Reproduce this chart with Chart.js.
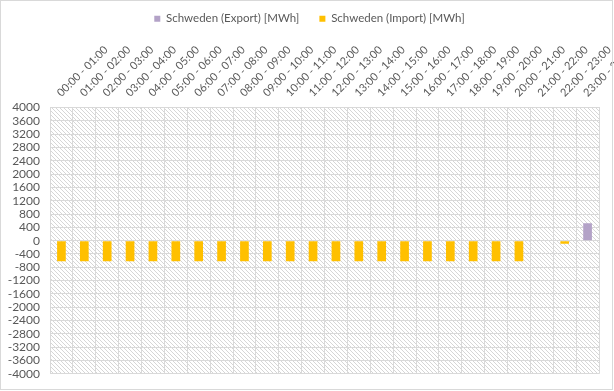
<!DOCTYPE html>
<html>
<head>
<meta charset="utf-8">
<script src="https://cdn.jsdelivr.net/npm/chart.js@4"></script>
<style>
  html, body { margin: 0; padding: 0; background: #fff; }
  #wrap { width: 614px; height: 391px; position: relative; }
</style>
</head>
<body>
<div id="wrap"><canvas id="chart"></canvas></div>
<script>
// hourly slots
const hours = [
    '00:00 - 01:00', '01:00 - 02:00', '02:00 - 03:00', '03:00 - 04:00',
    '04:00 - 05:00', '05:00 - 06:00', '06:00 - 07:00', '07:00 - 08:00',
    '08:00 - 09:00', '09:00 - 10:00', '10:00 - 11:00', '11:00 - 12:00',
    '12:00 - 13:00', '13:00 - 14:00', '14:00 - 15:00', '15:00 - 16:00',
    '16:00 - 17:00', '17:00 - 18:00', '18:00 - 19:00', '19:00 - 20:00',
    '20:00 - 21:00', '21:00 - 22:00', '22:00 - 23:00', '23:00 - 24:00'
];

const exportMWh = [
    0, 0, 0, 0, 0, 0, 0, 0, 0, 0, 0, 0,
    0, 0, 0, 0, 0, 0, 0, 0, 0, 0, 0, 520
];

const importMWh = [
    -620, -620, -620, -620, -620, -620, -620, -620, -620, -620, -620, -620,
    -620, -620, -620, -620, -620, -620, -620, -620, -620, 0, -90, 0
];

const yMin = -4000;
const yMax = 4000;
const yStep = 400;

const textColor = '#595959';
const gridColor = '#d9d9d9';
const fontFamily = 'Lato, "Open Sans", sans-serif';

// light diagonal hatch for the plot area
function makeHatch() {
    const c = document.createElement('canvas');
    c.width = 4;
    c.height = 4;
    const g = c.getContext('2d');
    g.fillStyle = '#ffffff';
    g.fillRect(0, 0, 4, 4);
    g.fillStyle = '#d6d6d6';
    for (let i = 0; i < 4; i++) g.fillRect(i, i, 1, 1);
    return g.createPattern(c, 'repeat');
}

const plotBackground = {
    id: 'plotBackground',
    afterLayout(chart) {
        // legend sits a little right of the plot centre in the original
        chart.legend.left += 10;
        chart.legend.right += 10;
    },
    beforeDraw(chart) {
        const { ctx, chartArea: a } = chart;
        ctx.save();
        ctx.fillStyle = makeHatch();
        ctx.fillRect(a.left, a.top, a.right - a.left, a.bottom - a.top);
        ctx.restore();
    },
    afterDraw(chart) {
        const ctx = chart.ctx;
        ctx.save();
        ctx.strokeStyle = gridColor;
        ctx.lineWidth = 1;
        ctx.strokeRect(0.5, 0.5, 612, 389);
        ctx.restore();
    }
};

new Chart(document.getElementById('chart').getContext('2d'), {
    type: 'bar',
    data: {
        labels: hours,
        datasets: [
            {
                label: 'Schweden (Export) [MWh]',
                data: exportMWh,
                backgroundColor: '#b3a2c7',
                borderWidth: 0,
            },
            {
                label: 'Schweden (Import) [MWh]',
                data: importMWh,
                backgroundColor: '#ffc000',
                borderWidth: 0,
            }
        ]
    },
    options: {
        responsive: true,
        maintainAspectRatio: false,
        animation: false,
        layout: { padding: { left: 0, right: 15, top: -7, bottom: 16 } },
        datasets: {
            bar: { barPercentage: 0.38, categoryPercentage: 1 }
        },
        scales: {
            x: {
                position: 'top',
                stacked: true,
                grid: { color: gridColor, drawTicks: false },
                border: { color: gridColor },
                ticks: {
                    color: textColor,
                    font: { family: fontFamily, size: 11 },
                    minRotation: 45,
                    maxRotation: 45,
                    autoSkip: false,
                    padding: 8,
                    labelOffset: 7,
                },
                afterFit(scale) {
                    scale.paddingLeft = 0;
                    scale.paddingRight = 0;
                    scale.height = 73;
                }
            },
            y: {
                stacked: true,
                min: yMin,
                max: yMax,
                grid: { color: gridColor, drawTicks: false },
                border: { color: gridColor },
                ticks: {
                    stepSize: yStep,
                    autoSkip: false,
                    color: textColor,
                    font: { family: fontFamily, size: 12 },
                    padding: 10,
                    callback: (value) => String(value),
                },
                afterFit(scale) {
                    scale.width = 50;
                }
            }
        },
        plugins: {
            legend: {
                position: 'top',
                labels: {
                    color: textColor,
                    font: { family: fontFamily, size: 11.5 },
                    boxWidth: 6,
                    boxHeight: 6,
                    padding: 20,
                }
            },
            tooltip: { enabled: false }
        }
    },
    plugins: [plotBackground]
});
</script>
</body>
</html>
